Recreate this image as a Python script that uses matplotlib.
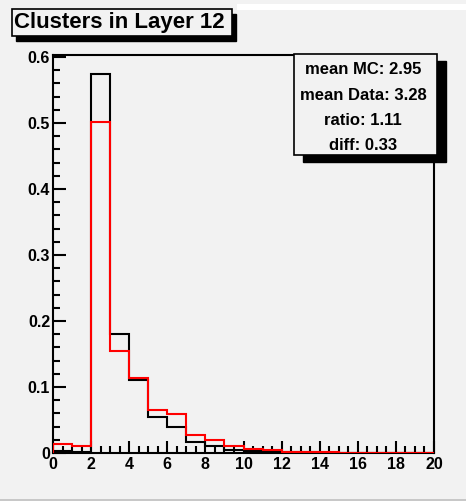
import matplotlib.pyplot as plt
import numpy as np
from matplotlib.patches import Rectangle
from matplotlib.ticker import MultipleLocator

# cluster multiplicity, normalised to unit area
edges = np.arange(0, 21, 1)
mc = [0.003, 0.002, 0.574, 0.180, 0.111, 0.055, 0.040, 0.016, 0.0105, 0.0045,
      0.003, 0.002, 0.001, 0.0008, 0.0005, 0.0003, 0.0002, 0.0001, 0.0001, 0.0]
data = [0.0135, 0.0105, 0.502, 0.155, 0.113, 0.065, 0.0585, 0.028, 0.019, 0.0105,
        0.0065, 0.004, 0.0012, 0.001, 0.001, 0.0003, 0.0002, 0.0002, 0.0001, 0.0001]

title = 'Clusters in Layer 12'
stats = ['mean MC: 2.95', 'mean Data: 3.28', 'ratio: 1.11', 'diff: 0.33']

W, H = 466, 501
bg = '#f2f2f2'
plt.rcParams['font.family'] = ['Liberation Sans', 'DejaVu Sans']
plt.rcParams['font.weight'] = 'bold'

fig = plt.figure(figsize=(W / 100, H / 100), dpi=100, facecolor=bg)


def box(x0, y0, x1, y1):
    # pixel box (top-left origin) -> figure fraction
    return x0 / W, 1 - y1 / H, (x1 - x0) / W, (y1 - y0) / H


def framed(x0, y0, x1, y1, dx, dy):
    l, b, w, h = box(x0 + dx, y0 + dy, x1 + dx, y1 + dy)
    fig.patches.append(Rectangle((l, b), w, h, transform=fig.transFigure,
                                 facecolor='black', edgecolor='black', zorder=5))
    l, b, w, h = box(x0, y0, x1, y1)
    fig.patches.append(Rectangle((l, b), w, h, transform=fig.transFigure,
                                 facecolor=bg, edgecolor='black', lw=1.2, zorder=6))


# window edges
fig.patches.append(Rectangle((237 / W, 1 - 10 / H), 1, 6 / H, transform=fig.transFigure,
                             facecolor='white', edgecolor='none'))
fig.patches.append(Rectangle((0, 0), 1, 2 / H, transform=fig.transFigure,
                             facecolor='#c8c8c8', edgecolor='none'))

ax = fig.add_axes(box(53, 55, 434, 453))
ax.set_facecolor(bg)
ax.stairs(mc, edges, baseline=0, color='black', lw=1.5, zorder=3)
ax.stairs(data, edges, baseline=0, color='red', lw=1.5, zorder=4)

ax.set_xlim(0, 20)
ax.set_ylim(0, 0.603)
ax.xaxis.set_major_locator(MultipleLocator(2))
ax.xaxis.set_minor_locator(MultipleLocator(0.5))
ax.yaxis.set_major_locator(MultipleLocator(0.1))
ax.yaxis.set_minor_locator(MultipleLocator(0.02))
ax.set_yticks([0, 0.1, 0.2, 0.3, 0.4, 0.5, 0.6])
ax.set_yticklabels(['0', '0.1', '0.2', '0.3', '0.4', '0.5', '0.6'])
ax.tick_params(which='both', direction='in', labelsize=11.5, width=1.5, pad=2)
ax.tick_params(which='major', length=9)
ax.tick_params(which='minor', length=5)
ax.tick_params(axis='x', pad=3)
for s in ax.spines.values():
    s.set_linewidth(1.5)

# title and statistics panels
framed(12, 9, 232, 36, 4, 5)
fig.text(119 / W, 1 - 22.5 / H, title, ha='center', va='center', fontsize=16,
         fontweight='bold', zorder=7)

framed(294, 54, 437, 155, 9, 7)
for i, s in enumerate(stats):
    fig.text(363 / W, 1 - (70 + 25.3 * i) / H, s, ha='center', va='center',
             fontsize=12, fontweight='bold', zorder=7)

fig.savefig('out.png', dpi=100, facecolor=bg)
